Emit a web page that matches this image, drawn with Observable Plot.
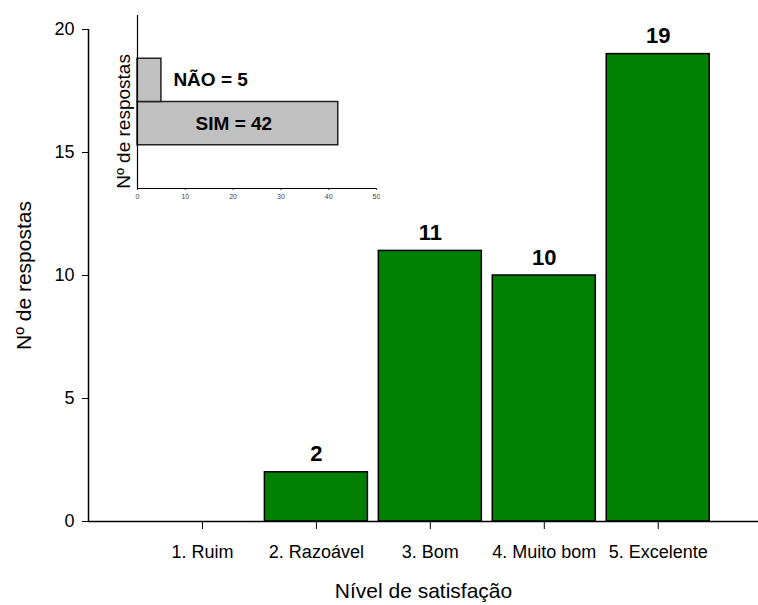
<!DOCTYPE html>
<html>
<head>
<meta charset="utf-8">
<script src="https://cdn.jsdelivr.net/npm/d3@7"></script>
<script src="https://cdn.jsdelivr.net/npm/@observablehq/plot@0.6"></script>
<style>
  html, body { margin: 0; padding: 0; background: #fff; }
  #wrap { position: relative; width: 758px; height: 605px; font-family: "Liberation Sans", Arial, sans-serif; }
  #inset { position: absolute; left: 80px; top: 0px; }
  svg { background: transparent !important; }
</style>
</head>
<body>
<div id="wrap"><div id="main"></div><div id="inset"></div></div>
<script>
// Main chart data
const categories = ["1. Ruim", "2. Razoável", "3. Bom", "4. Muito bom", "5. Excelente"];
const counts = [0, 2, 11, 10, 19];
const yTicks = [0, 5, 10, 15, 20];
const xTitle = "Nível de satisfação";
const yTitle = "Nº de respostas";

// Inset data
const insetLabels = ["SIM", "NÃO"];
const insetValues = [42, 5];
const insetTicks = [0, 10, 20, 30, 40, 50];
const insetYTitle = "Nº de respostas";

const mainData = categories.map((c, i) => ({cat: c, idx: i + 1, value: counts[i]}));
const shown = mainData.filter(d => d.value > 0);
const halfW = 0.452;

const main = Plot.plot({
  width: 758,
  height: 605,
  marginLeft: 88,
  marginRight: 0,
  marginTop: 29,
  marginBottom: 84,
  style: {fontFamily: "Liberation Sans, Arial, sans-serif", fontSize: "18px", color: "#000", background: "transparent"},
  x: {domain: [0, 5.88]},
  y: {domain: [0, 20]},
  marks: [
    Plot.rectY(shown, {x1: d => d.idx - halfW, x2: d => d.idx + halfW, y1: 0, y2: "value", fill: "#008000", stroke: "#000", strokeWidth: 1.5}),
    Plot.text(shown, {x: "idx", y: "value", text: d => String(d.value), dy: -18, fontWeight: "bold", fontSize: 22}),
    Plot.axisY({ticks: yTicks, tickSize: 6, tickPadding: 8, fontSize: 18, label: null}),
    Plot.axisX({ticks: mainData.map(d => d.idx), tickFormat: i => categories[i - 1], tickSize: 8, tickPadding: 16, fontSize: 18, label: null}),
    Plot.text([yTitle], {frameAnchor: "left", textAnchor: "middle", text: d => d, rotate: -90, dx: -64, fontSize: 21}),
    Plot.text([xTitle], {frameAnchor: "bottom", textAnchor: "middle", text: d => d, dy: 76, fontSize: 21}),
    Plot.ruleX([0], {stroke: "#000", strokeWidth: 1.5}),
    Plot.ruleY([0], {stroke: "#000", strokeWidth: 1.5})
  ]
});
document.getElementById("main").appendChild(main);

// Inset
const insetData = insetLabels.map((l, i) => ({label: l, value: insetValues[i], pos: i + 1}));
const inset = Plot.plot({
  width: 300,
  height: 210,
  marginLeft: 57,
  marginRight: 4,
  marginTop: 15,
  marginBottom: 22,
  style: {fontFamily: "Liberation Sans, Arial, sans-serif", background: "transparent", color: "#000"},
  x: {domain: [0, 50]},
  y: {domain: [0, 4]},
  marks: [
    Plot.rectX(insetData, {x1: 0, x2: "value", y1: "pos", y2: d => d.pos + 1, fill: "#c0c0c0", stroke: "#222", strokeWidth: 1.5}),
    Plot.text(insetData.filter(d => d.label === "SIM"), {x: d => d.value / 2, y: d => d.pos + 0.5, text: d => `${d.label} = ${d.value}`, dx: -4, fontWeight: "bold", fontSize: 19}),
    Plot.text(insetData.filter(d => d.label === "NÃO"), {x: d => d.value, y: d => d.pos + 0.5, text: d => `${d.label} = ${d.value}`, dx: 12, textAnchor: "start", fontWeight: "bold", fontSize: 19}),
    Plot.text([insetYTitle], {x: 0, y: 1.55, text: d => d, rotate: -90, dx: -14, fontSize: 19}),
    Plot.axisX({ticks: insetTicks, tickSize: 2, tickPadding: 4, fontSize: 7, color: "#444", label: null}),
    Plot.axisY({ticks: [], label: null}),
    Plot.ruleX([0], {stroke: "#000", strokeWidth: 1.2}),
    Plot.ruleY([0], {stroke: "#000", strokeWidth: 1.2})
  ]
});
document.getElementById("inset").appendChild(inset);
</script>
</body>
</html>
